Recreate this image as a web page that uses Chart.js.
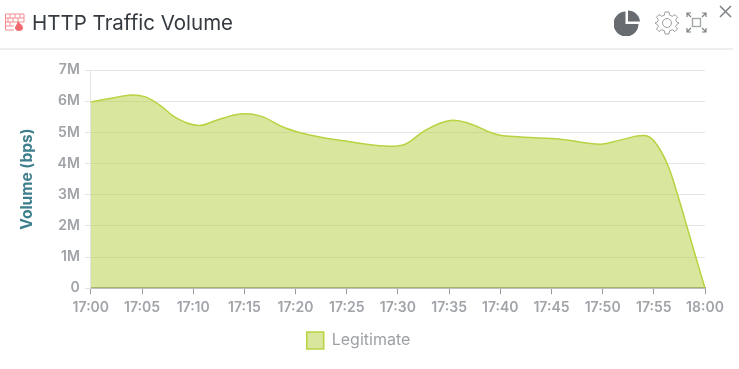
<!DOCTYPE html>
<html>
<head>
<meta charset="utf-8">
<title>HTTP Traffic Volume</title>
<script src="https://cdn.jsdelivr.net/npm/chart.js@4"></script>
<style>
    html, body { margin: 0; padding: 0; background: #fff; }
    #wrap { position: relative; width: 739px; height: 369px; overflow: hidden; filter: blur(0.5px); }
    #chart { position: absolute; left: 0; top: 0; }
    #title { position: absolute; left: 32px; top: 10px; font: 400 20.5px Inter, sans-serif; color: #343a40; white-space: nowrap; }
    #rule { position: absolute; left: 0; top: 47.5px; width: 733px; height: 2px; background: #eeeeee; }
    svg { position: absolute; }
</style>
</head>
<body>
<div id="wrap">
    <canvas id="chart" width="739" height="369"></canvas>
    <div id="rule"></div>
    <svg style="left:5px;top:13px" width="20" height="18" viewBox="0 0 20 18" fill="none" stroke="#f58b8f" stroke-width="1">
        <path d="M0.5 1H19M0.5 5H19M0.5 9H19M0.5 13H9M0.5 17H9M0.5 1V17M5 1V5M10 1V5M15 1V5M19 1V9M3 5V9M8 5V9M13 5V9M5 9V13"/>
        <path d="M13 8C14 11 18 11 18 15C18 17 16 18 14 18C12 18 10 17 10 15C10 13 12 12 13 8Z" fill="#f0696e" stroke="none"/>
    </svg>
    <div id="title">HTTP Traffic Volume</div>
    <svg style="left:614px;top:10px" width="27" height="26" viewBox="0 0 27 26">
        <path d="M11.5 1.5V14H24.5A12.5 12.5 0 1 1 11.5 1.5Z" fill="#686c70"/>
        <path d="M14 0.5A12 12 0 0 1 26 11.5H14Z" fill="#686c70"/>
    </svg>
    <svg style="left:655px;top:11px" width="24" height="24" viewBox="0 0 24 24" fill="none" stroke="#85888c" stroke-width="0.8">
        <circle cx="12" cy="12" r="4.5"/>
        <path d="M10 1H14L14.6 4.2L17.4 5.3L20 3.5L22.5 6.2L20.6 8.8L21.7 11L24 12L21.7 13.5L20.6 15.4L22.5 18L20 20.5L17.4 18.7L14.6 19.8L14 23H10L9.4 19.8L6.6 18.7L4 20.5L1.5 18L3.4 15.4L2.3 13.5L0 12L2.3 11L3.4 8.8L1.5 6.2L4 3.5L6.6 5.3L9.4 4.2Z"/>
    </svg>
    <svg style="left:686px;top:12px" width="21" height="21" viewBox="0 0 21 21" fill="none" stroke="#7d8085" stroke-width="1.2">
        <rect x="6.5" y="6.5" width="8" height="8" stroke="#a5a8ab" stroke-width="1.4"/>
        <path d="M1 5V1H5M1 1L5 5M20 5V1H16M20 1L16 5M1 16V20H5M1 20L5 16M20 16V20H16M20 20L16 16"/>
    </svg>
    <svg style="left:719px;top:5px" width="13" height="13" viewBox="0 0 13 13" stroke="#7d8085" stroke-width="1.5">
        <path d="M1 1L12 12M12 1L1 12"/>
    </svg>
</div>
<script>
// Minutes after 17:00 and traffic volume in bps
const minutes = [0, 2.4, 4, 5.4, 6.8, 8.3, 10.5, 12.2, 14.6, 16.6, 19, 21.5, 24.9, 28.8, 30.7, 32.7, 35.1, 37.1, 39.5, 42, 45.9, 49.8, 51.7, 54.1, 55.1, 56.3, 57.3, 58.2, 59.1, 60];
const legitimate = [5970000, 6120000, 6200000, 6130000, 5860000, 5470000, 5220000, 5380000, 5590000, 5520000, 5140000, 4910000, 4720000, 4560000, 4620000, 5070000, 5380000, 5270000, 4950000, 4850000, 4780000, 4620000, 4750000, 4900000, 4690000, 4000000, 3020000, 2020000, 1000000, 0];

const timeLabels = ['17:00', '17:05', '17:10', '17:15', '17:20', '17:25', '17:30', '17:35', '17:40', '17:45', '17:50', '17:55', '18:00'];
const seriesName = 'Legitimate';
const axisTitle = 'Volume (bps)';

const tickFont = { family: 'Inter, sans-serif', size: 14, weight: '600' };

new Chart(document.getElementById('chart'), {
    type: 'line',
    data: {
        datasets: [{
            label: seriesName,
            data: minutes.map((m, i) => ({ x: m, y: legitimate[i] })),
            backgroundColor: 'rgba(178, 208, 60, 0.5)',
            borderColor: '#b7d341',
            borderWidth: 1.5,
            fill: true,
            pointRadius: 0,
            tension: 0.4
        }]
    },
    options: {
        responsive: false,
        animation: false,
        layout: { padding: { left: 12, right: 34, top: 70, bottom: 10 } },
        plugins: {
            tooltip: { enabled: false },
            legend: {
                position: 'bottom',
                labels: {
                    boxWidth: 17,
                    boxHeight: 17,
                    padding: 11,
                    color: '#9da1a6',
                    font: { family: 'Inter, sans-serif', size: 16 }
                }
            }
        },
        scales: {
            x: {
                type: 'linear',
                min: 0,
                max: 60,
                z: 1,
                border: { color: '#9a9a9a', width: 1.5 },
                grid: { drawOnChartArea: false, tickLength: 6, tickColor: '#9a9a9a' },
                ticks: {
                    stepSize: 5,
                    maxRotation: 0,
                    autoSkip: false,
                    color: '#a0a3a8',
                    font: tickFont,
                    padding: 5,
                    callback: v => timeLabels[v / 5]
                }
            },
            y: {
                min: 0,
                max: 7000000,
                border: { color: '#e4e4e4' },
                grid: { color: '#e4e4e4', tickLength: 6 },
                title: {
                    display: true,
                    text: axisTitle,
                    color: '#3e7f8d',
                    font: { family: 'Inter, sans-serif', size: 15.5, weight: '700' },
                    padding: { top: 6, bottom: 16 }
                },
                ticks: {
                    stepSize: 1000000,
                    color: '#a0a3a8',
                    font: tickFont,
                    padding: 5,
                    callback: v => v === 0 ? '0' : (v / 1000000) + 'M'
                }
            }
        }
    }
});
</script>
</body>
</html>
